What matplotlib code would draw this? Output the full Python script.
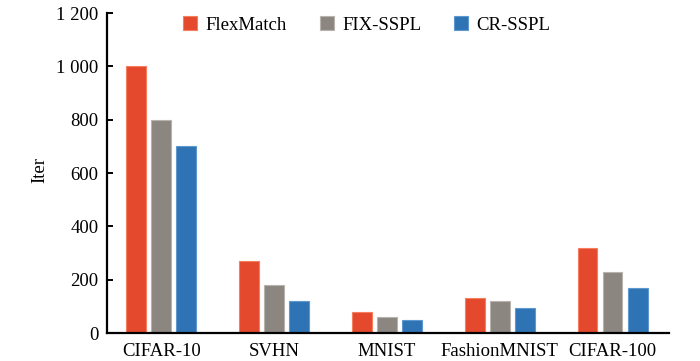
import numpy as np
import matplotlib.pyplot as plt
from matplotlib.ticker import FuncFormatter

# data
datasets = ['CIFAR-10', 'SVHN', 'MNIST', 'FashionMNIST', 'CIFAR-100']
flexmatch = [1000, 270, 78, 130, 320]
fix_sspl = [800, 180, 60, 120, 230]
cr_sspl = [700, 120, 47, 92, 170]

plt.rcParams['font.family'] = ['Liberation Serif', 'DejaVu Serif']
plt.rcParams['font.size'] = 13.5

fig = plt.figure(figsize=(7, 3.61), dpi=100)
ax = fig.add_axes([107/700, 28/361, (669-107)/700, (333-13)/361])

x = np.arange(len(datasets))
w = 0.175
step = 0.222
series = [
    (flexmatch, 'FlexMatch', '#E5492D', '#F47E5E'),
    (fix_sspl, 'FIX-SSPL', '#8C8681', '#B8B3AE'),
    (cr_sspl, 'CR-SSPL', '#2E74B5', '#5E98CF'),
]
for i, (vals, name, col, edge) in enumerate(series):
    ax.bar(x + (i - 1) * step, vals, width=w, color=col, edgecolor=edge,
           linewidth=0.8, label=name)

ax.set_xlim(-0.48, 4.5)
ax.set_ylim(0, 1200)
ax.set_yticks(np.arange(0, 1201, 200))
ax.yaxis.set_major_formatter(FuncFormatter(lambda v, p: f'{int(v):,}'.replace(',', ' ')))
ax.set_xticks(x)
ax.set_xticklabels(datasets)
ax.set_ylabel('Iter')
ax.yaxis.set_label_coords(-0.105, 0.51)

for s in ['top', 'right']:
    ax.spines[s].set_visible(False)
for s in ['left', 'bottom']:
    ax.spines[s].set_linewidth(1.6)
ax.tick_params(axis='y', direction='in', length=4.5, width=1.4, pad=6)
ax.tick_params(axis='x', length=0, pad=7)

fig.legend(loc='center left', bbox_to_anchor=(183/700, 1 - 25/361), ncol=3,
           frameon=False, borderpad=0, borderaxespad=0,
           handlelength=0.75, handleheight=0.75,
           handletextpad=0.45, columnspacing=1.75)

fig.savefig('out.png', dpi=100)
